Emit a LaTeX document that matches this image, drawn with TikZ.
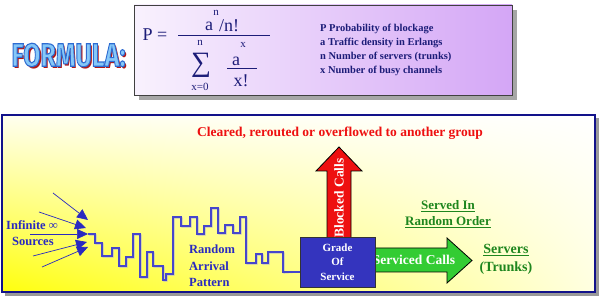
\documentclass[tikz,border=0pt]{standalone}
\usepackage{fontspec}
\setmainfont{Liberation Serif}
\newfontfamily\titlefont{Fira Sans}
\usepackage{xcolor}
\usepackage{tikz}
\usetikzlibrary{arrows.meta,positioning,calc,shadings}
\definecolor{navy}{HTML}{1C1C78}
\definecolor{framenavy}{HTML}{12128A}
\definecolor{textblue}{HTML}{2A2AC0}
\definecolor{waveblue}{HTML}{4646CC}
\definecolor{gosblue}{HTML}{3434BE}
\definecolor{blockred}{HTML}{EE1010}
\definecolor{callgreen}{HTML}{33CC33}
\definecolor{darkgreen}{HTML}{1E861E}
\definecolor{titleblue}{HTML}{86C8F8}
\definecolor{titleshadow}{HTML}{B01818}
\definecolor{lavender}{HTML}{D4A6F6}
\newcommand{\fsz}[2]{\fontsize{#1}{#2}\selectfont}
% outlined text: fill in the current colour, stroke in mid blue
\newcommand{\outlined}[1]{\special{pdf:literal direct 2 Tr 0.18 0.42 0.82 RG 0.9 w}#1\special{pdf:literal direct 0 Tr}}

\begin{document}
\begin{tikzpicture}[x=1pt, y=-1pt,
    titletext/.style={font=\titlefont\fsz{25}{25}\bfseries, yscale=1.3, inner sep=0pt},
    legend/.style={anchor=west, font=\fsz{10.5}{12}\bfseries, text=navy, inner sep=0pt},
    formula/.style={font=\fsz{18}{18}, text=navy, inner sep=0pt},
    small/.style={font=\fsz{11}{11}, text=navy, inner sep=0pt},
    bluelabel/.style={font=\fsz{12.5}{16.5}\bfseries, text=textblue, inner sep=0pt, align=left},
    greenlabel/.style={font=\fsz{13}{16}\bfseries, text=darkgreen, inner sep=0pt},
    whitelabel/.style={font=\fsz{13.5}{14}\bfseries, text=white, inner sep=0pt},
    gosbox/.style={rectangle, draw=black!80, fill=gosblue, line width=0.8pt, minimum width=75pt, minimum height=50pt, inner sep=0pt, align=center, text=white, font=\fsz{11}{14.5}\bfseries},
    srcarrow/.style={draw=textblue, line width=0.7pt, -{Triangle[length=11pt,width=10pt]}},
    wave/.style={line width=1.1pt}
]
    \useasboundingbox (0,0) rectangle (600,296);

    % Formula panel
    \fill[black!35] (139,10) rectangle (517,100);
    \shade[left color=lavender!15, right color=lavender] (134,5) rectangle (512,95);
    \draw[black!75, line width=0.8pt] (134,5) rectangle (512,95);

    % Title
    \node[titletext, text=titleshadow] (titleshade) at (70.5,57) {FORMULA:};
    \node[titletext, text=titleblue] (title) at (68.5,55) {\outlined{FORMULA:}};

    % Erlang B formula
    \node[formula] (peq) at (155,35) {P =};
    \node[formula] (numa) at (209,26) {a};
    \node[small] (numexp) at (216,13) {n};
    \node[formula] (numrest) at (229,26) {/n!};
    \draw[navy, line width=0.6pt] (178,35) -- (270,35);
    \node[font=\fsz{28}{28}, text=navy, inner sep=0pt] (sigma) at (201,65) {∑};
    \node[small] (sumtop) at (200,43) {n};
    \node[small] (sumbot) at (200,87) {x=0};
    \node[formula] (terma) at (236,61) {a};
    \node[small] (termexp) at (243,45) {x};
    \draw[navy, line width=0.6pt] (227,68) -- (257,68);
    \node[formula] (termden) at (241,81) {x!};

    % Legend
    \node[legend] (leg1) at (320,29) {P Probability of blockage};
    \node[legend] (leg2) at (320,43) {a Traffic density in Erlangs};
    \node[legend] (leg3) at (320,57) {n Number of servers (trunks)};
    \node[legend] (leg4) at (320,71) {x Number of busy channels};

    % Queue panel
    \fill[black!40] (5,118) rectangle (599,296);
    \shade[lower left=yellow!95!white, upper left=yellow!6!white, lower right=yellow!12!white, upper right=white] (2,115) rectangle (595,292);
    \draw[framenavy, line width=1.6pt] (2,115) rectangle (595,292);

    \node[font=\fsz{13.5}{14}\bfseries, text=blockred, inner sep=0pt] (cleared) at (340,133) {Cleared, rerouted or overflowed to another group};

    % Blocked and serviced arrows
    \draw[black, fill=blockred, line width=0.8pt] (327,245) -- (327,171) -- (316,171) -- (339,147) -- (362,171) -- (351,171) -- (351,245) -- cycle;
    \node[whitelabel, rotate=90] (blocked) at (339,198) {Blocked Calls};
    \draw[black, fill=callgreen, line width=0.8pt] (368,248) -- (447,248) -- (447,238) -- (472,260.5) -- (447,283) -- (447,272) -- (368,272) -- cycle;
    \node[whitelabel] (serviced) at (414,260) {Serviced Calls};

    \node[gosbox] (gos) at (337.5,262) {Grade\\Of\\Service};

    % Sources
    \node[bluelabel, anchor=west] (infinite) at (6,225) {Infinite ∞};
    \node[bluelabel, anchor=west] (sources) at (12,241) {Sources};
    \coordinate (src1) at (53,193); \coordinate (tip1) at (88,220);
    \coordinate (src2) at (39,212); \coordinate (tip2) at (86,228);
    \coordinate (src3) at (30,234); \coordinate (tip3) at (88,234);
    \coordinate (src4) at (33,256); \coordinate (tip4) at (87,242);
    \coordinate (src5) at (42,267); \coordinate (tip5) at (88,247);
    \foreach \i in {1,...,5}
        \draw[srcarrow] (src\i) -- (tip\i);

    % Random arrival pattern
    \foreach \col/\off in {black!25/1, waveblue/0}
        \draw[wave, draw=\col, shift={(\off,\off)}] (88,234) -| (95,243) -| (102,256) -| (112,248) -| (119,266)
            -| (126,257) -| (133,234) -| (140,277) -| (147,252) -| (153,266) -| (163,280) -| (166,274)
            -| (173,217) -| (181,226) -| (190,217) -| (197,234) -| (204,226) -| (211,208) -| (218,233)
            -| (225,225) -| (233,233) -| (240,217) -| (246,263) -| (256,254) -| (262,263) -| (268,252)
            -| (283,272) -- ($(gos.west)+(0,10)$);
    \node[bluelabel, anchor=west] (pattern) at (189,266) {Random\\Arrival\\Pattern};

    % Servers
    \node[greenlabel] (servedin) at (448,206) {\underline{Served In}};
    \node[greenlabel] (order) at (448,222) {\underline{Random Order}};
    \node[greenlabel, font=\fsz{14}{16}\bfseries] (servers) at (506,250) {\underline{Servers}};
    \node[greenlabel, font=\fsz{14}{16}\bfseries] (trunks) at (506,268) {(Trunks)};
\end{tikzpicture}
\end{document}
